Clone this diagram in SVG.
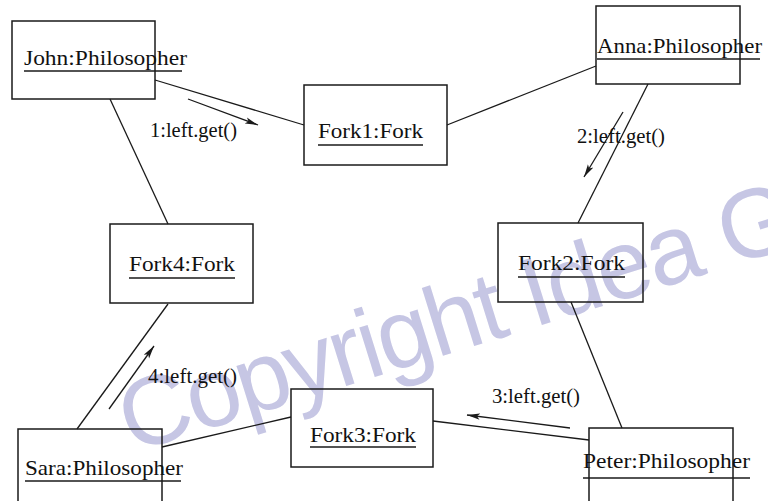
<svg xmlns="http://www.w3.org/2000/svg" width="768" height="501" viewBox="0 0 768 501">
<defs>
<style>
.box{fill:none;stroke:#1a1a1a;stroke-width:1.5}
.lbl{font-family:"Liberation Serif","Times New Roman",serif;font-size:22px;fill:#111}
.msg{font-family:"Liberation Serif","Times New Roman",serif;font-size:20px;fill:#111}
.ul{stroke:#1a1a1a;stroke-width:1.5}
.cn{stroke:#1a1a1a;stroke-width:1.3;fill:none}
.ar{stroke:#1a1a1a;stroke-width:1.3;fill:none;marker-end:url(#ah)}
.wm{font-family:"Liberation Sans",Arial,sans-serif;font-size:98px;fill:#c6c6e4}
</style>
<marker id="ah" markerUnits="userSpaceOnUse" markerWidth="14" markerHeight="8" refX="13" refY="4" orient="auto">
<path d="M0,0.8 L13,4 L0,7.2 L3,4 Z" fill="#1a1a1a"/>
</marker>
</defs>
<rect width="768" height="501" fill="#fff"/>
<text class="wm" x="131" y="453" textLength="703" lengthAdjust="spacing" transform="rotate(-17.3 131 453)">Copyright Idea G</text>
<g id="connectors">
<line class="cn" x1="155" y1="80" x2="304" y2="125"/>
<line class="cn" x1="110" y1="99" x2="168" y2="224"/>
<line class="cn" x1="447" y1="125" x2="596" y2="66"/>
<line class="cn" x1="648" y1="84" x2="578" y2="223"/>
<line class="cn" x1="571" y1="302" x2="622" y2="428"/>
<line class="cn" x1="589" y1="440" x2="433" y2="421"/>
<line class="cn" x1="291" y1="417" x2="162" y2="447"/>
<line class="cn" x1="77" y1="429" x2="168" y2="304"/>
<line class="ar" x1="188" y1="99" x2="258" y2="125"/>
<line class="ar" x1="623" y1="112" x2="584" y2="177"/>
<line class="ar" x1="570" y1="428" x2="467" y2="415"/>
<line class="ar" x1="109" y1="409" x2="154" y2="346"/>
<text class="msg" x="150" y="137" textLength="87" lengthAdjust="spacingAndGlyphs">1:left.get()</text>
<text class="msg" x="577" y="143" textLength="88" lengthAdjust="spacingAndGlyphs">2:left.get()</text>
<text class="msg" x="492" y="403" textLength="88" lengthAdjust="spacingAndGlyphs">3:left.get()</text>
<text class="msg" x="148" y="383" textLength="89" lengthAdjust="spacingAndGlyphs">4:left.get()</text>
</g>
<g id="john">
<rect class="box" x="12" y="21" width="143" height="78"/>
<text class="lbl" x="24" y="65" textLength="163" lengthAdjust="spacingAndGlyphs">John:Philosopher</text>
<line class="ul" x1="24" y1="71" x2="182" y2="71"/>
</g>
<g id="anna">
<rect class="box" x="596" y="6" width="144" height="78"/>
<text class="lbl" x="597" y="53" textLength="165" lengthAdjust="spacingAndGlyphs">Anna:Philosopher</text>
<line class="ul" x1="597" y1="59" x2="760" y2="59"/>
</g>
<g id="fork1">
<rect class="box" x="304" y="85" width="143" height="80"/>
<text class="lbl" x="318" y="138" textLength="105" lengthAdjust="spacingAndGlyphs">Fork1:Fork</text>
<line class="ul" x1="318" y1="145" x2="423" y2="145"/>
</g>
<g id="fork2">
<rect class="box" x="498" y="223" width="145" height="79"/>
<text class="lbl" x="518" y="270" textLength="107" lengthAdjust="spacingAndGlyphs">Fork2:Fork</text>
<line class="ul" x1="518" y1="277" x2="625" y2="277"/>
</g>
<g id="fork4">
<rect class="box" x="110" y="224" width="143" height="79"/>
<text class="lbl" x="129" y="271" textLength="106" lengthAdjust="spacingAndGlyphs">Fork4:Fork</text>
<line class="ul" x1="129" y1="278" x2="235" y2="278"/>
</g>
<g id="fork3">
<rect class="box" x="291" y="389" width="142" height="78"/>
<text class="lbl" x="310" y="442" textLength="106" lengthAdjust="spacingAndGlyphs">Fork3:Fork</text>
<line class="ul" x1="310" y1="447" x2="416" y2="447"/>
</g>
<g id="sara">
<rect class="box" x="18" y="429" width="144" height="100"/>
<text class="lbl" x="25" y="475" textLength="158" lengthAdjust="spacingAndGlyphs">Sara:Philosopher</text>
<line class="ul" x1="25" y1="481" x2="181" y2="481"/>
</g>
<g id="peter">
<rect class="box" x="589" y="428" width="144" height="100"/>
<text class="lbl" x="583" y="468" textLength="167" lengthAdjust="spacingAndGlyphs">Peter:Philosopher</text>
<line class="ul" x1="583" y1="478" x2="750" y2="478"/>
</g>
</svg>
